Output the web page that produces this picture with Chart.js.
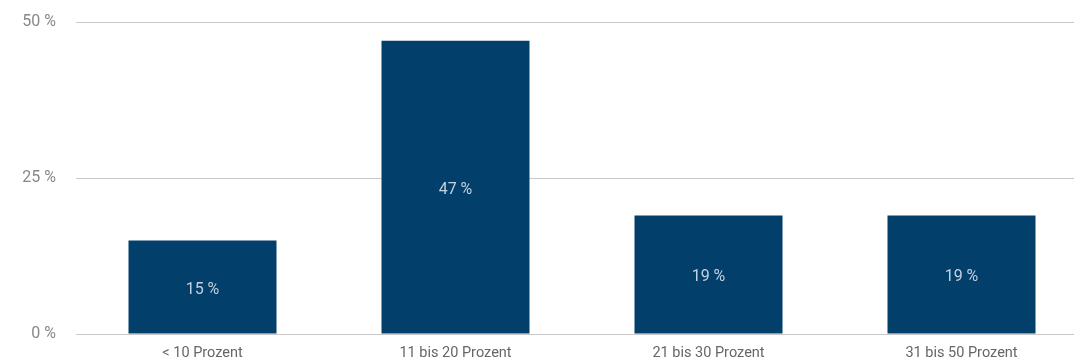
<!DOCTYPE html>
<html>
<head>
<meta charset="utf-8">
<script src="https://cdn.jsdelivr.net/npm/chart.js@4/dist/chart.umd.min.js"></script>
<style>
    html, body { margin: 0; padding: 0; background: #fff; }
    #wrap { width: 1074px; height: 361px; overflow: hidden; }
</style>
</head>
<body>
<div id="wrap">
    <canvas id="chart" width="1088" height="361"></canvas>
</div>
<script>
// Anteil je Gruppe in Prozent
const kategorien = ['< 10 Prozent', '11 bis 20 Prozent', '21 bis 30 Prozent', '31 bis 50 Prozent'];
const anteile = [15, 47, 19, 19];
const yTicks = [0, 25, 50];

const FONT = 'Roboto, "DejaVu Sans", sans-serif';

// Wert mittig in den Balken schreiben
const balkenWerte = {
    id: 'balkenWerte',
    afterDatasetsDraw(chart) {
        const ctx = chart.ctx;
        const meta = chart.getDatasetMeta(0);
        ctx.save();
        ctx.font = '16px ' + FONT;
        ctx.fillStyle = '#c3d1de';
        ctx.textAlign = 'center';
        ctx.textBaseline = 'middle';
        meta.data.forEach((bar, i) => {
            const mitte = (bar.y + bar.base) / 2;
            ctx.fillText(anteile[i] + ' %', bar.x, mitte + 3);
        });
        ctx.restore();
    }
};

new Chart(document.getElementById('chart'), {
    type: 'bar',
    data: {
        labels: kategorien,
        datasets: [{
            data: anteile,
            backgroundColor: '#023f6b',
            barPercentage: 0.585,
            categoryPercentage: 1.0
        }]
    },
    options: {
        responsive: false,
        animation: false,
        layout: { padding: { top: 22, right: 0, bottom: 0, left: 0 } },
        plugins: {
            legend: { display: false },
            tooltip: { enabled: false }
        },
        scales: {
            x: {
                grid: { display: false },
                border: { display: false },
                ticks: {
                    color: '#666',
                    font: { family: FONT, size: 14.5 },
                    padding: 3
                },
                afterFit(scale) {
                    scale.height = 27;
                    scale.paddingLeft = 0;
                    scale.paddingRight = 0;
                }
            },
            y: {
                min: 0,
                max: 50,
                afterBuildTicks(scale) {
                    scale.ticks = yTicks.map(v => ({ value: v }));
                },
                grid: { color: '#c8c8c8', lineWidth: 1, drawTicks: false },
                border: { display: false },
                ticks: {
                    color: '#888',
                    font: { family: FONT, size: 16 },
                    padding: 20,
                    callback: v => v + ' %'
                },
                afterFit(scale) {
                    scale.width = 76;
                    scale.paddingTop = 0;
                    scale.paddingBottom = 0;
                }
            }
        }
    },
    plugins: [balkenWerte]
});
</script>
</body>
</html>
